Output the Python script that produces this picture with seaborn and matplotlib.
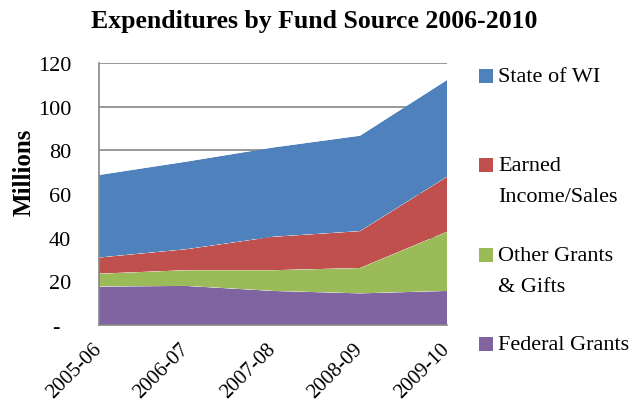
import numpy as np
import pandas as pd
import matplotlib
matplotlib.use("Agg")
import matplotlib.pyplot as plt
import seaborn as sns
import seaborn.objects as so
from matplotlib.patches import Rectangle

# ---------------- data ----------------
years = ["2005-06", "2006-07", "2007-08", "2008-09", "2009-10"]
federal = [17.6, 17.9, 15.6, 14.5, 15.6]
other_grants = [5.9, 7.2, 9.5, 11.6, 27.1]
earned = [7.4, 9.6, 15.3, 16.9, 25.2]
state = [37.8, 40.1, 40.9, 43.7, 44.3]
series_names = ["Federal Grants", "Other Grants & Gifts", "Earned Income/Sales", "State of WI"]
legend_labels = ["State of WI", "Earned\nIncome/Sales", "Other Grants\n& Gifts", "Federal Grants"]
yticks = [0, 20, 40, 60, 80, 100, 120]
ytick_labels = ["-  ", "20", "40", "60", "80", "100", "120"]
title = "Expenditures by Fund Source 2006-2010"
ylabel = "Millions"

colors = {"Federal Grants": "#8064A2", "Other Grants & Gifts": "#9BBB59",
          "Earned Income/Sales": "#C0504D", "State of WI": "#4F81BD"}

SERIF = ["Liberation Serif", "DejaVu Serif"]
sns.set_style("white")
plt.rcParams["font.family"] = SERIF
TXT = "black"

df = pd.DataFrame({
    "Year": np.tile(np.arange(len(years)), len(series_names)),
    "Value": federal + other_grants + earned + state,
    "Source": np.repeat(series_names, len(years)),
})

W, H = 641, 406
fig = plt.figure(figsize=(W / 100, H / 100), dpi=100)
ax_l, ax_r, ax_t, ax_b = 99, 447, 64, 326
ax = fig.add_axes([ax_l / W, 1 - ax_b / H, (ax_r - ax_l) / W, (ax_b - ax_t) / H])

theme = {**sns.axes_style("white"), "font.family": SERIF}
(so.Plot(df, x="Year", y="Value", color="Source")
   .add(so.Area(alpha=1, edgewidth=0), so.Stack(), legend=False)
   .scale(color=colors)
   .theme(theme)
   .on(ax)
   .plot())

grid_c = "#868686"
ax.set_facecolor("white")
ax.set_xlim(0, len(years) - 1)
ax.set_ylim(0, 120)
ax.set_yticks(yticks)
ax.set_yticklabels(ytick_labels, fontsize=16, family=SERIF, color=TXT)
ax.set_xticks(range(len(years)))
ax.set_xticklabels(years, fontsize=15, family=SERIF, rotation=45, color=TXT,
                   ha="right", va="center", rotation_mode="anchor")
ax.tick_params(axis="both", length=0)
ax.tick_params(axis="y", pad=20)
ax.tick_params(axis="x", pad=15)
ax.set_axisbelow(True)
ax.yaxis.grid(True, color=grid_c, lw=1.2)
ax.xaxis.grid(False)
for s in ["top", "right"]:
    ax.spines[s].set_visible(False)
for s in ["left", "bottom"]:
    ax.spines[s].set_visible(True)
    ax.spines[s].set_color(grid_c)
    ax.spines[s].set_linewidth(1.2)
ax.set_xlabel("")
ax.set_ylabel("")

fig.text(24 / W, 1 - 172 / H, ylabel, rotation=90, fontsize=18, fontweight="bold",
         family=SERIF, ha="center", va="center", color=TXT)
fig.text(314 / W, 1 - 28 / H, title, fontsize=18.5, fontweight="bold",
         family=SERIF, ha="center", va="baseline", color=TXT)

# legend (patch aligned to first line, as in the original)
leg_y = [77, 166, 256, 345]
leg_colors = [colors["State of WI"], colors["Earned Income/Sales"],
              colors["Other Grants & Gifts"], colors["Federal Grants"]]
line_step = 31
for lab, c, yc in zip(legend_labels, leg_colors, leg_y):
    fig.patches.append(Rectangle((479 / W, 1 - (yc + 7) / H), 14 / W, 14 / H,
                                 transform=fig.transFigure, facecolor=c, edgecolor="none"))
    for i, line in enumerate(lab.split("\n")):
        fig.text(498 / W, 1 - (yc + 5 + i * line_step) / H, line, fontsize=16,
                 family=SERIF, ha="left", va="baseline", color=TXT)

fig.savefig("out.png", dpi=100)
